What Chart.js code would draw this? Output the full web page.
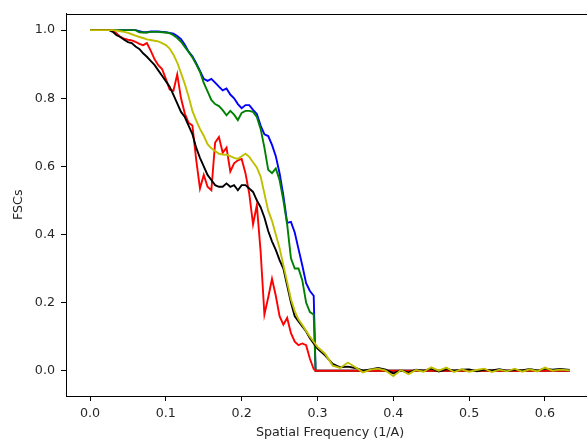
<!DOCTYPE html>
<html lang="en">
<head>
    <meta charset="UTF-8">
    <title>FSC curves</title>
    <script src="https://cdn.jsdelivr.net/npm/chart.js"></script>
    <style>
        html, body {
            margin: 0;
            padding: 0;
            background: #fff;
            overflow: hidden;
        }
        #fscChart {
            display: block;
        }
    </style>
</head>
<body>
    <canvas id="fscChart" width="600" height="446"></canvas>

    <script>
        // spatial frequency (1/A) for the main part of the curves
        const freq = [0.000, 0.005, 0.010, 0.015, 0.020, 0.025, 0.030, 0.035, 0.040, 0.045,
                      0.050, 0.055, 0.060, 0.065, 0.070, 0.075, 0.080, 0.085, 0.090, 0.095,
                      0.100, 0.105, 0.110, 0.115, 0.120, 0.125, 0.130, 0.135, 0.140, 0.145,
                      0.150, 0.155, 0.160, 0.165, 0.170, 0.175, 0.180, 0.185, 0.190, 0.195,
                      0.200, 0.205, 0.210, 0.215, 0.220, 0.225, 0.230, 0.235, 0.240, 0.245,
                      0.250, 0.255, 0.260, 0.265, 0.270, 0.275, 0.280, 0.285, 0.290, 0.295];

        const fscBlue = [1.0, 1.0, 1.0, 1.0, 1.0, 1.0, 1.0, 1.0, 1.0, 1.0,
                         1.0, 1.0, 1.0, 0.997, 0.994, 0.994, 0.996, 0.996, 0.996, 0.995,
                         0.994, 0.992, 0.990, 0.983, 0.974, 0.957, 0.937, 0.923, 0.903, 0.880,
                         0.857, 0.851, 0.857, 0.846, 0.834, 0.823, 0.829, 0.811, 0.800, 0.783,
                         0.771, 0.780, 0.780, 0.766, 0.754, 0.720, 0.694, 0.689, 0.663, 0.630,
                         0.580, 0.514, 0.434, 0.437, 0.406, 0.357, 0.309, 0.257, 0.234, 0.220];

        const fscGreen = [1.0, 1.0, 1.0, 1.0, 1.0, 1.0, 1.0, 1.0, 1.0, 1.0,
                          1.0, 1.0, 1.0, 0.994, 0.993, 0.993, 0.995, 0.995, 0.995, 0.994,
                          0.993, 0.991, 0.985, 0.977, 0.966, 0.951, 0.936, 0.920, 0.900, 0.878,
                          0.845, 0.820, 0.795, 0.783, 0.777, 0.765, 0.750, 0.763, 0.752, 0.736,
                          0.757, 0.763, 0.763, 0.760, 0.745, 0.710, 0.655, 0.590, 0.580, 0.594,
                          0.560, 0.500, 0.430, 0.330, 0.300, 0.300, 0.265, 0.200, 0.172, 0.165];

        const fscRed = [1.0, 1.0, 1.0, 1.0, 1.0, 1.0, 1.0, 0.990, 0.980, 0.975,
                        0.972, 0.970, 0.966, 0.960, 0.956, 0.962, 0.940, 0.915, 0.897, 0.886,
                        0.857, 0.826, 0.822, 0.870, 0.800, 0.755, 0.728, 0.720, 0.620, 0.535,
                        0.575, 0.540, 0.530, 0.670, 0.686, 0.640, 0.655, 0.585, 0.609, 0.618,
                        0.622, 0.580, 0.520, 0.430, 0.486, 0.350, 0.165, 0.215, 0.270, 0.220,
                        0.160, 0.135, 0.155, 0.110, 0.085, 0.075, 0.080, 0.075, 0.035, 0.005];

        const fscBlack = [1.0, 1.0, 1.0, 1.0, 1.0, 1.0, 0.995, 0.985, 0.980, 0.972,
                          0.965, 0.962, 0.952, 0.945, 0.932, 0.922, 0.910, 0.898, 0.882, 0.866,
                          0.850, 0.834, 0.810, 0.785, 0.760, 0.745, 0.720, 0.695, 0.655, 0.625,
                          0.600, 0.575, 0.560, 0.545, 0.540, 0.540, 0.550, 0.540, 0.545, 0.530,
                          0.545, 0.545, 0.535, 0.525, 0.500, 0.480, 0.450, 0.410, 0.380, 0.355,
                          0.325, 0.300, 0.250, 0.200, 0.160, 0.145, 0.130, 0.115, 0.095, 0.080];

        const fscYellow = [1.0, 1.0, 1.0, 1.0, 1.0, 1.0, 1.0, 0.999, 0.997, 0.995,
                           0.992, 0.988, 0.984, 0.980, 0.977, 0.973, 0.971, 0.969, 0.967, 0.962,
                           0.956, 0.946, 0.928, 0.905, 0.874, 0.842, 0.805, 0.763, 0.735, 0.710,
                           0.690, 0.665, 0.653, 0.645, 0.637, 0.635, 0.634, 0.630, 0.625, 0.622,
                           0.630, 0.637, 0.628, 0.612, 0.597, 0.570, 0.520, 0.470, 0.440, 0.400,
                           0.360, 0.310, 0.260, 0.210, 0.175, 0.150, 0.134, 0.117, 0.100, 0.085];

        // noisy tail of the black and yellow curves
        const tailFreq = [0.30, 0.31, 0.32, 0.33, 0.34, 0.35, 0.36, 0.37, 0.38, 0.39,
                          0.40, 0.41, 0.42, 0.43, 0.44, 0.45, 0.46, 0.47, 0.48, 0.49,
                          0.50, 0.51, 0.52, 0.53, 0.54, 0.55, 0.56, 0.57, 0.58, 0.59,
                          0.60, 0.61, 0.62, 0.633];
        const tailYellow = [0.070, 0.050, 0.015, 0.008, 0.024, 0.010, -0.005, 0.003, 0.006, 0.000,
                            -0.016, 0.002, -0.010, 0.002, -0.003, 0.010, 0.000, 0.009, -0.004, 0.004,
                            -0.003, 0.002, 0.006, -0.004, 0.003, -0.002, 0.006, -0.003, 0.004, -0.002,
                            0.009, 0.000, 0.003, 0.001];
        const tailBlack = [0.065, 0.045, 0.020, 0.010, 0.012, 0.008, 0.000, 0.004, 0.008, 0.003,
                           -0.008, 0.001, -0.006, 0.003, 0.000, 0.006, -0.002, 0.005, 0.000, 0.003,
                           0.004, -0.002, 0.003, 0.001, 0.004, -0.001, 0.003, 0.001, 0.005, 0.000,
                           0.006, 0.003, 0.005, 0.002];

        // blue, green and red fall straight to zero at the cutoff
        const cutFreq = [0.2975, 0.633];
        const cutBlue = [0, 0];
        const cutGreen = [0, 0];
        const cutRed = [0, 0];

        const xTicks = [0.0, 0.1, 0.2, 0.3, 0.4, 0.5, 0.6];
        const yTicks = [0.0, 0.2, 0.4, 0.6, 0.8, 1.0];

        function pts(xs, ys) {
            return xs.map((x, i) => ({ x: x, y: ys[i] }));
        }

        // matplotlib style box around the plot area
        const framePlugin = {
            id: 'frame',
            afterDatasetsDraw(chart) {
                const { ctx, chartArea } = chart;
                ctx.save();
                ctx.strokeStyle = '#000';
                ctx.lineWidth = 1;
                ctx.strokeRect(Math.round(chartArea.left) + 0.5, Math.round(chartArea.top) + 0.5,
                    Math.round(chartArea.right - chartArea.left), Math.round(chartArea.bottom - chartArea.top));
                ctx.restore();
            }
        };

        Chart.defaults.font.family = 'DejaVu Sans';
        Chart.defaults.font.size = 12.7;
        Chart.defaults.color = '#262626';

        const lineStyle = { borderWidth: 1.9, pointRadius: 0, tension: 0, fill: false };

        // first dataset is drawn on top in Chart.js
        const datasets = [
            { label: 'yellow', borderColor: '#bfbf00', data: pts(freq.concat(tailFreq), fscYellow.concat(tailYellow)) },
            { label: 'black', borderColor: '#000000', data: pts(freq.concat(tailFreq), fscBlack.concat(tailBlack)) },
            { label: 'red', borderColor: '#ff0000', data: pts(freq.concat(cutFreq), fscRed.concat(cutRed)) },
            { label: 'green', borderColor: '#008000', data: pts(freq.concat(cutFreq), fscGreen.concat(cutGreen)) },
            { label: 'blue', borderColor: '#0000ff', data: pts(freq.concat(cutFreq), fscBlue.concat(cutBlue)) }
        ].map(d => Object.assign({}, lineStyle, d));

        const ctx = document.getElementById('fscChart').getContext('2d');
        new Chart(ctx, {
            type: 'line',
            data: { datasets: datasets },
            plugins: [framePlugin],
            options: {
                responsive: false,
                animation: false,
                layout: { padding: { top: 3, right: 6, left: 0, bottom: 0 } },
                plugins: {
                    legend: { display: false },
                    tooltip: { enabled: false }
                },
                scales: {
                    x: {
                        type: 'linear',
                        min: -0.0317,
                        max: 0.6647,
                        afterBuildTicks: s => { s.ticks = xTicks.map(v => ({ value: v })); },
                        afterFit: s => { s.height = 50; },
                        ticks: {
                            callback: v => v.toFixed(1),
                            padding: 5,
                            maxRotation: 0,
                            color: '#262626'
                        },
                        grid: { drawOnChartArea: false, drawTicks: true, tickLength: 5, color: '#000', lineWidth: 1 },
                        border: { display: true, color: '#000', width: 1 },
                        title: {
                            display: true,
                            text: 'Spatial Frequency (1/A)',
                            padding: { top: 0, bottom: 5.5 }
                        }
                    },
                    y: {
                        type: 'linear',
                        min: -0.0743,
                        max: 1.0486,
                        afterBuildTicks: s => { s.ticks = yTicks.map(v => ({ value: v })); },
                        afterFit: s => { s.width = 66; },
                        ticks: {
                            callback: v => v.toFixed(1),
                            padding: 6,
                            color: '#262626'
                        },
                        grid: { drawOnChartArea: false, drawTicks: true, tickLength: 5, color: '#000', lineWidth: 1 },
                        border: { display: true, color: '#000', width: 1 },
                        title: {
                            display: true,
                            text: 'FSCs',
                            padding: { top: 11, bottom: 0 }
                        }
                    }
                }
            }
        });
    </script>
</body>
</html>
